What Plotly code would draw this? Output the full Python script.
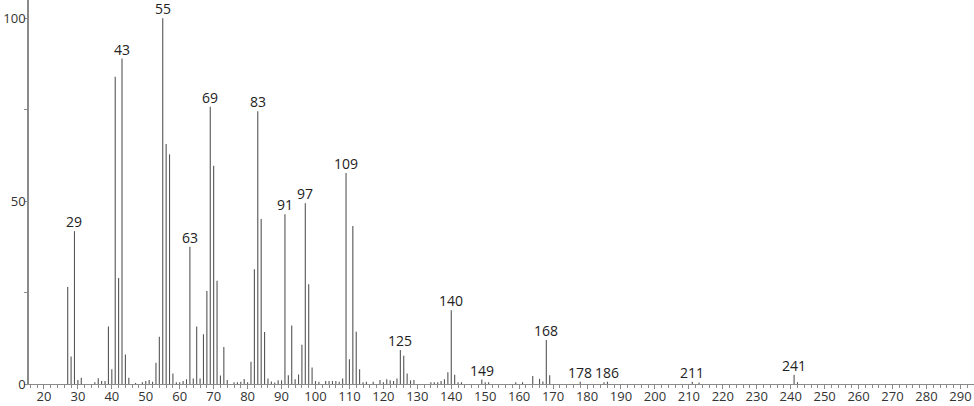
import plotly.graph_objects as go

mz = [27, 28, 29, 30, 31, 35, 36, 37, 38, 39, 40, 41, 42, 43, 44, 45, 47, 49, 50,
      51, 52, 53, 54, 55, 56, 57, 58, 59, 60, 61, 62, 63, 64, 65, 66, 67, 68, 69,
      70, 71, 72, 73, 74, 76, 77, 78, 79, 80, 81, 82, 83, 84, 85, 86, 87, 88, 89,
      90, 91, 92, 93, 94, 95, 96, 97, 98, 99, 100, 101, 103, 104, 105, 106, 107,
      108, 109, 110, 111, 112, 113, 114, 115, 117, 119, 120, 121, 122, 123, 124,
      125, 126, 127, 128, 129, 134, 135, 136, 137, 138, 139, 140, 141, 142, 143,
      149, 150, 151, 159, 161, 164, 166, 167, 168, 169, 178, 185, 186, 211, 213,
      241, 242]
intensity = [26.5, 7.5, 41.8, 1.1, 1.7, 0.5, 1.6, 0.8, 0.8, 15.7, 4.0, 84.0, 29.0,
             89.0, 8.1, 1.7, 0.3, 0.5, 0.8, 1.1, 0.6, 5.8, 12.9, 100.0, 65.6, 62.8,
             2.9, 0.5, 0.5, 0.8, 1.3, 37.5, 1.5, 15.7, 1.5, 13.6, 25.4, 75.8, 59.7,
             28.2, 2.3, 10.1, 1.1, 0.5, 0.5, 0.6, 1.4, 0.5, 6.1, 31.4, 74.6, 45.1,
             14.2, 1.5, 0.7, 0.4, 1.0, 1.0, 46.4, 2.4, 16.0, 1.3, 2.6, 10.7, 49.4,
             27.3, 4.5, 0.8, 0.6, 0.8, 0.8, 0.8, 0.8, 0.6, 1.5, 57.7, 6.8, 43.2,
             14.3, 4.0, 0.5, 0.6, 0.6, 1.1, 0.5, 1.3, 1.0, 0.8, 1.5, 9.3, 7.7, 2.9,
             1.0, 1.1, 0.5, 0.5, 0.5, 0.8, 1.3, 3.2, 20.2, 2.5, 0.5, 0.5, 1.2, 0.5,
             0.5, 0.5, 0.5, 2.2, 1.4, 0.7, 12.0, 2.4, 0.6, 0.5, 0.6, 0.6, 0.4, 2.5,
             0.5]
labelled = [29, 43, 55, 63, 69, 83, 91, 97, 109, 125, 140, 149, 168, 178, 186, 211, 241]
x_ticks = list(range(20, 291, 10))
y_ticks = [0, 50, 100]

FONT = "Open Sans, DejaVu Sans, sans-serif"

# stick spectrum: one vertical segment per peak, built from the data arrays
seg_x, seg_y = [], []
for m, v in zip(mz, intensity):
    seg_x += [m, m, None]
    seg_y += [0, v, None]

fig = go.Figure()
fig.add_trace(go.Scatter(x=seg_x, y=seg_y, mode="lines",
                         line=dict(color="#555555", width=1.1),
                         hoverinfo="skip"))

lookup = dict(zip(mz, intensity))
for m in labelled:
    fig.add_annotation(x=m, y=lookup[m], text=str(m), showarrow=False,
                       yanchor="bottom", xanchor="center", yshift=-2,
                       font=dict(family=FONT, size=14, color="#222222"))

fig.update_layout(
    width=974, height=406,
    margin=dict(l=29, r=0, t=0, b=22),
    paper_bgcolor="white", plot_bgcolor="white",
    showlegend=False,
    font=dict(family=FONT, size=13, color="#333333"),
)
fig.update_xaxes(range=[15.6, 294], tickvals=x_ticks, ticktext=[str(v) for v in x_ticks],
                 automargin=False,
                 showgrid=False, zeroline=False, showline=True, linecolor="#8a8a8a",
                 linewidth=1, ticks="outside", ticklen=4, tickcolor="#8a8a8a",
                 tickfont=dict(family=FONT, size=13, color="#333333"),
                 minor=dict(dtick=2, tick0=0, ticks="outside", ticklen=3, tickcolor="#8a8a8a"))
fig.update_yaxes(range=[0, 105], tickvals=y_ticks, ticktext=[str(v) for v in y_ticks],
                 automargin=False,
                 showgrid=False, zeroline=False, showline=True, linecolor="#8a8a8a",
                 linewidth=1.5, ticks="outside", ticklen=3, tickcolor="#8a8a8a",
                 tickfont=dict(family=FONT, size=13, color="#333333"),
                 minor=dict(dtick=25, tick0=0, ticks="outside", ticklen=3, tickcolor="#8a8a8a"))

# pull tick labels a little closer to the axes, if supported
try:
    fig.update_xaxes(ticklabelstandoff=-4)
    fig.update_yaxes(ticklabelstandoff=-4)
except Exception:
    pass

# remove the default 8px body margin so the figure fills the window exactly
fig.write_html("out.html", config={"displayModeBar": False},
               post_script="document.body.style.margin='0';document.body.style.overflow='hidden';")
